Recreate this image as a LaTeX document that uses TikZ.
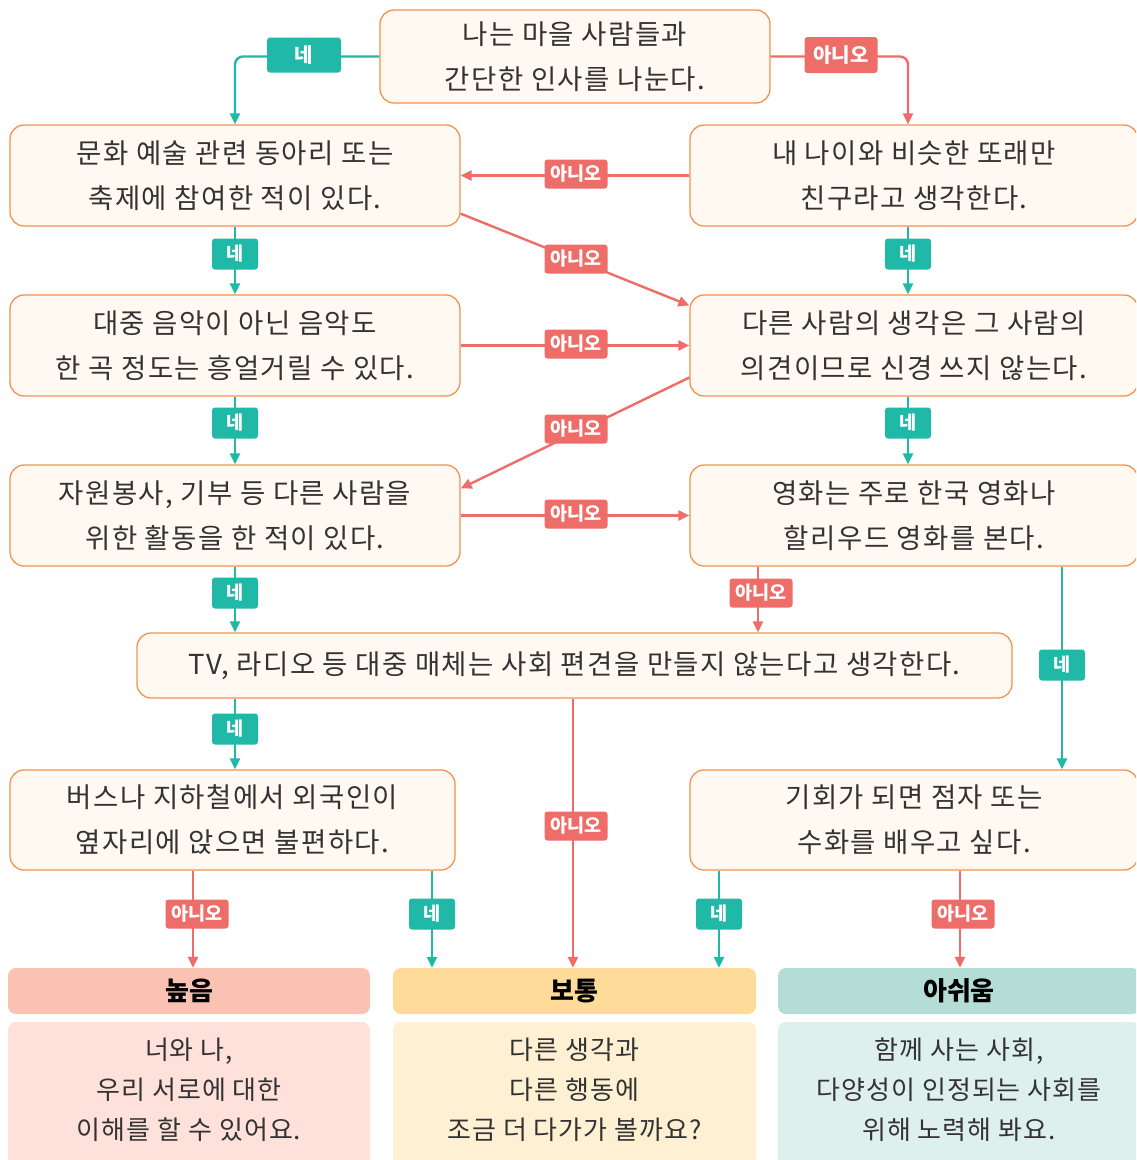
\documentclass[tikz,border=0pt]{standalone}
\usepackage{fontspec}
\newfontfamily\kr{Noto Sans CJK KR}
\newfontfamily\krw[LetterSpace=5]{Noto Sans CJK KR}
\newfontfamily\krb[LetterSpace=4]{Noto Sans CJK KR}
\usetikzlibrary{arrows.meta}
\definecolor{teal1}{HTML}{20B8A6}
\definecolor{red1}{HTML}{EF6D69}
\definecolor{boxline}{HTML}{F4924F}
\definecolor{boxfill}{HTML}{FFF9F1}
\definecolor{txt}{HTML}{333333}
\definecolor{h1c}{HTML}{F9C2B2}
\definecolor{h2c}{HTML}{FEDB99}
\definecolor{h3c}{HTML}{B4DED5}
\definecolor{b1c}{HTML}{FDE1DA}
\definecolor{b2c}{HTML}{FEF0D3}
\definecolor{b3c}{HTML}{DDF0EB}
\tikzset{
  qbox/.style={draw=boxline, fill=boxfill, line width=1.3pt, rounded corners=14pt,
    align=center, text=txt, inner sep=0pt, font=\krw\fontsize{27.5}{45}\selectfont},
  headbox/.style={rounded corners=8pt, inner sep=0pt, minimum height=46pt, text=black,
    font=\kr\bfseries\fontsize{26}{30}\selectfont},
  bodybox/.style={rounded corners=8pt, inner sep=0pt, minimum height=160pt},
  bodytext/.style={align=center, text=txt, inner sep=0pt, font=\krb\fontsize{26}{40}\selectfont},
  yesline/.style={draw=teal1, line width=2.4pt, -{Triangle[length=11pt,width=10pt]}},
  noline/.style={draw=red1, line width=2.4pt, -{Triangle[length=11pt,width=10pt]}},
  yeslbl/.style={fill=teal1, text=white, rounded corners=3pt, inner sep=0pt,
    minimum width=46pt, minimum height=31pt, font=\kr\bfseries\fontsize{18.5}{20}\selectfont},
  nolbl/.style={fill=red1, text=white, rounded corners=3pt, inner sep=0pt,
    minimum width=63pt, minimum height=29pt, font=\kr\bfseries\fontsize{18.5}{20}\selectfont},
}
\begin{document}
\begin{tikzpicture}[x=1pt, y=-1pt]
\path[use as bounding box, fill=white] (0,0) rectangle (1136,1160);
\clip (0,0) rectangle (1136,1160);

% question boxes
\node[qbox, minimum width=390pt, minimum height=93pt] (top) at (575,56.5) {나는 마을 사람들과\\간단한 인사를 나눈다.};
\node[qbox, minimum width=450pt, minimum height=101pt] (b1) at (235,175.5) {문화 예술 관련 동아리 또는\\축제에 참여한 적이 있다.};
\node[qbox, minimum width=448pt, minimum height=101pt] (b2) at (914,175.5) {내 나이와 비슷한 또래만\\친구라고 생각한다.};
\node[qbox, minimum width=450pt, minimum height=101pt] (b3) at (235,345.5) {대중 음악이 아닌 음악도\\한 곡 정도는 흥얼거릴 수 있다.};
\node[qbox, minimum width=448pt, minimum height=101pt] (b4) at (914,345.5) {다른 사람의 생각은 그 사람의\\의견이므로 신경 쓰지 않는다.};
\node[qbox, minimum width=450pt, minimum height=101pt] (b5) at (235,515.5) {자원봉사, 기부 등 다른 사람을\\위한 활동을 한 적이 있다.};
\node[qbox, minimum width=448pt, minimum height=101pt] (b6) at (914,515.5) {영화는 주로 한국 영화나\\할리우드 영화를 본다.};
\node[qbox, minimum width=875pt, minimum height=65pt] (tv) at (574.5,665.5) {TV, 라디오 등 대중 매체는 사회 편견을 만들지 않는다고 생각한다.};
\node[qbox, minimum width=445pt, minimum height=100pt] (b8) at (232.5,820) {버스나 지하철에서 외국인이\\옆자리에 앉으면 불편하다.};
\node[qbox, minimum width=448pt, minimum height=100pt] (b9) at (914,820) {기회가 되면 점자 또는\\수화를 배우고 싶다.};

% result boxes
\node[headbox, fill=h1c, minimum width=362pt] (h1) at (189,991) {높음};
\node[headbox, fill=h2c, minimum width=363pt] (h2) at (574.5,991) {보통};
\node[headbox, fill=h3c, minimum width=362pt] (h3) at (959,991) {아쉬움};
\node[bodybox, fill=b1c, minimum width=362pt] (r1) at (189,1102) {};
\node[bodybox, fill=b2c, minimum width=363pt] (r2) at (574.5,1102) {};
\node[bodybox, fill=b3c, minimum width=362pt] (r3) at (959,1102) {};
\node[bodytext] (r1t) at (189,1090) {너와 나,\\우리 서로에 대한\\이해를 할 수 있어요.};
\node[bodytext] (r2t) at (574.5,1090) {다른 생각과\\다른 행동에\\조금 더 다가가 볼까요?};
\node[bodytext] (r3t) at (959,1090) {함께 사는 사회,\\다양성이 인정되는 사회를\\위해 노력해 봐요.};

% connectors
\draw[yesline, rounded corners=8pt] (top.west) -| (b1.north);
\draw[noline, rounded corners=8pt] (top.east) -| ([xshift=-6pt]b2.north);
\draw[noline] (b2.west) -- (b1.east);
\draw[noline] ([yshift=13pt]b1.south east) -- ([yshift=40pt]b4.west);
\draw[yesline] (b1.south) -- (b3.north);
\draw[yesline] ([xshift=-6pt]b2.south) -- ([xshift=-6pt]b4.north);
\draw[noline] (b3.east) -- (b4.west);
\draw[yesline] (b3.south) -- (b5.north);
\draw[noline] ([yshift=-32pt]b4.west) -- ([yshift=27pt]b5.east);
\draw[yesline] ([xshift=-6pt]b4.south) -- ([xshift=-6pt]b6.north);
\draw[noline] (b5.east) -- (b6.west);
\draw[yesline] (b5.south) -- (b5.south |- tv.north);
\draw[noline] (b6.south -| 758,0) -- (tv.north -| 758,0);
\draw[yesline] (b6.south -| 1062,0) -- (b9.north -| 1062,0);
\draw[yesline] (tv.south -| 235,0) -- (b8.north -| 235,0);
\draw[noline] (tv.south -| 573,0) -- (h2.north -| 573,0);
\draw[noline] (b8.south -| 193,0) -- (h1.north -| 193,0);
\draw[yesline] (b8.south -| 432,0) -- (h2.north -| 432,0);
\draw[yesline] (b9.south -| 719,0) -- (h2.north -| 719,0);
\draw[noline] (b9.south -| 960,0) -- (h3.north -| 960,0);

% labels
\node[yeslbl, minimum width=74pt, minimum height=35pt, font=\kr\bfseries\fontsize{20}{22}\selectfont] (ly0) at (304,55) {네};
\node[nolbl, minimum width=73pt, minimum height=36pt, font=\kr\bfseries\fontsize{20}{22}\selectfont] (ln0) at (841,55) {아니오};
\node[nolbl] (ln1) at (576,174) {아니오};
\node[nolbl] (ln2) at (576,259) {아니오};
\node[yeslbl] (ly1) at (235,254) {네};
\node[yeslbl] (ly2) at (908,254) {네};
\node[nolbl] (ln3) at (576,344) {아니오};
\node[yeslbl] (ly3) at (235,423) {네};
\node[yeslbl] (ly4) at (908,423) {네};
\node[nolbl] (ln4) at (576,429) {아니오};
\node[nolbl] (ln5) at (576,514) {아니오};
\node[yeslbl] (ly5) at (235,593) {네};
\node[nolbl] (ln6) at (761,593) {아니오};
\node[yeslbl] (ly6) at (1062,665) {네};
\node[yeslbl] (ly7) at (235,729) {네};
\node[nolbl] (ln7) at (576,826) {아니오};
\node[nolbl] (ln8) at (197,914) {아니오};
\node[yeslbl] (ly8) at (432,914) {네};
\node[yeslbl] (ly9) at (719,914) {네};
\node[nolbl] (ln9) at (963,914) {아니오};
\end{tikzpicture}
\end{document}
